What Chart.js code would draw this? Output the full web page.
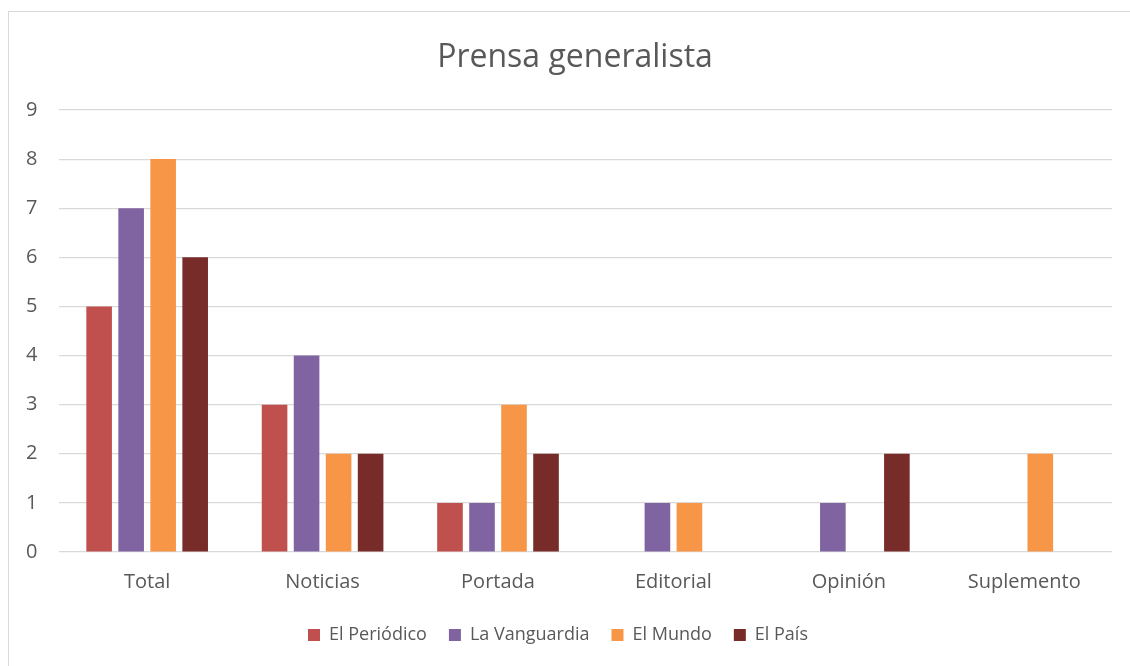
<!DOCTYPE html>
<html>
<head>
<meta charset="utf-8">
<script src="https://cdn.jsdelivr.net/npm/chart.js@4.4.0/dist/chart.umd.min.js"></script>
<style>
  html, body { margin: 0; padding: 0; background: #fff; overflow: hidden; }
  #frame { position: absolute; left: 8px; top: 11px; width: 1140px; height: 700px; border: 1px solid #d9d9d9; box-sizing: border-box; }
  #wrap { position: absolute; left: 0; top: 0; width: 1130px; height: 666px; }
  #title { position: absolute; left: 0; top: 35px; width: 1150px; text-align: center;
           font-family: 'Open Sans', 'Noto Sans', sans-serif; font-size: 32px; line-height: 40px; color: #595959; }
</style>
</head>
<body>
<div id="frame"></div>
<div id="wrap"><canvas id="prensaChart"></canvas></div>
<div id="title">Prensa generalista</div>
<script>
const categories = ['Total', 'Noticias', 'Portada', 'Editorial', 'Opinión', 'Suplemento'];
const elPeriodico = [5, 3, 1, 0, 0, 0];
const laVanguardia = [7, 4, 1, 1, 1, 0];
const elMundo = [8, 2, 3, 1, 0, 2];
const elPais = [6, 2, 2, 0, 2, 0];

const textColor = '#595959';
const fontFamily = "'Open Sans', 'Noto Sans', sans-serif";

const ctx = document.getElementById('prensaChart');

new Chart(ctx, {
    type: 'bar',
    data: {
        labels: categories,
        datasets: [
            { label: 'El Periódico', data: elPeriodico, backgroundColor: '#C0504D' },
            { label: 'La Vanguardia', data: laVanguardia, backgroundColor: '#8064A2' },
            { label: 'El Mundo', data: elMundo, backgroundColor: '#F79646' },
            { label: 'El País', data: elPais, backgroundColor: '#772C2A' }
        ]
    },
    options: {
        responsive: true,
        maintainAspectRatio: false,
        animation: false,
        layout: {
            padding: { left: 4, right: 18, top: 110, bottom: 12 }
        },
        datasets: {
            bar: {
                categoryPercentage: 0.73,
                barPercentage: 0.8
            }
        },
        plugins: {
            title: { display: false },
            legend: {
                position: 'bottom',
                labels: {
                    color: textColor,
                    font: { family: fontFamily, size: 18 },
                    boxWidth: 12,
                    boxHeight: 12,
                    padding: 22
                }
            },
            tooltip: { enabled: false }
        },
        scales: {
            x: {
                grid: { display: false },
                border: { display: false },
                ticks: {
                    color: textColor,
                    font: { family: fontFamily, size: 20 },
                    padding: 10
                }
            },
            y: {
                min: 0,
                max: 9,
                ticks: {
                    stepSize: 1,
                    color: textColor,
                    font: { family: fontFamily, size: 20 },
                    padding: 22
                },
                grid: { color: '#d9d9d9', lineWidth: 1.2, drawTicks: false },
                border: { display: false }
            }
        }
    }
});
</script>
</body>
</html>
